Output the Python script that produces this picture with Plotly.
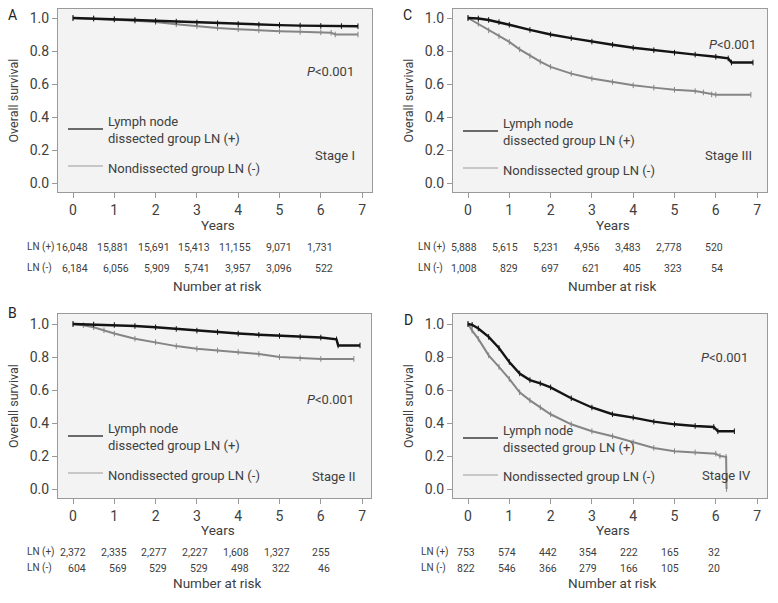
import plotly.graph_objects as go

W, H = 778, 603

# ---------------- data ----------------
years = [0, 1, 2, 3, 4, 5, 6, 7]
yticks = [0.0, 0.2, 0.4, 0.6, 0.8, 1.0]

A_pos_t = [0, 0.5, 1, 1.5, 2, 2.5, 3, 3.5, 4, 4.5, 5, 5.5, 6, 6.5, 6.9]
A_pos_s = [1.0, 0.997, 0.993, 0.988, 0.983, 0.978, 0.973, 0.968, 0.964, 0.960, 0.957, 0.954, 0.952, 0.951, 0.950]
A_neg_t = [0, 0.5, 1, 1.5, 2, 2.5, 3, 3.5, 4, 4.5, 5, 5.5, 6, 6.25, 6.35, 6.9]
A_neg_s = [1.0, 0.996, 0.99, 0.983, 0.975, 0.962, 0.95, 0.94, 0.932, 0.925, 0.92, 0.916, 0.913, 0.911, 0.90, 0.90]

B_pos_t = [0, 0.5, 1, 1.5, 2, 2.5, 3, 3.5, 4, 4.5, 5, 5.5, 6, 6.38, 6.42, 6.95]
B_pos_s = [1.0, 0.997, 0.994, 0.988, 0.98, 0.97, 0.96, 0.951, 0.942, 0.935, 0.928, 0.923, 0.918, 0.907, 0.87, 0.87]
B_neg_t = [0, 0.25, 0.5, 0.75, 1, 1.5, 2, 2.5, 3, 3.5, 4, 4.5, 5, 5.5, 6, 6.8]
B_neg_s = [1.0, 0.993, 0.98, 0.962, 0.942, 0.911, 0.89, 0.866, 0.85, 0.84, 0.83, 0.818, 0.80, 0.792, 0.788, 0.788]

C_pos_t = [0, 0.25, 0.5, 0.75, 1, 1.5, 2, 2.5, 3, 3.5, 4, 4.5, 5, 5.5, 6, 6.3, 6.38, 6.9]
C_pos_s = [1.0, 0.997, 0.988, 0.975, 0.959, 0.928, 0.90, 0.878, 0.857, 0.838, 0.82, 0.805, 0.79, 0.778, 0.765, 0.755, 0.73, 0.73]
C_neg_t = [0, 0.25, 0.5, 0.75, 1, 1.25, 1.5, 1.75, 2, 2.5, 3, 3.5, 4, 4.5, 5, 5.5, 5.7, 5.9, 6, 6.85]
C_neg_s = [1.0, 0.965, 0.925, 0.89, 0.855, 0.81, 0.77, 0.735, 0.704, 0.663, 0.633, 0.612, 0.592, 0.578, 0.565, 0.557, 0.549, 0.537, 0.535, 0.535]

D_pos_t = [0, 0.1, 0.25, 0.5, 0.75, 1, 1.25, 1.5, 1.75, 2, 2.5, 3, 3.5, 4, 4.5, 5, 5.5, 5.95, 6.05, 6.45]
D_pos_s = [1.0, 0.995, 0.973, 0.922, 0.855, 0.77, 0.70, 0.66, 0.64, 0.616, 0.55, 0.494, 0.453, 0.433, 0.408, 0.392, 0.382, 0.376, 0.35, 0.35]
D_neg_t = [0, 0.1, 0.25, 0.5, 0.75, 1, 1.25, 1.5, 1.75, 2, 2.5, 3, 3.5, 4, 4.5, 5, 5.5, 6, 6.1, 6.25, 6.26]
D_neg_s = [1.0, 0.96, 0.91, 0.81, 0.74, 0.667, 0.586, 0.537, 0.495, 0.453, 0.392, 0.35, 0.32, 0.283, 0.249, 0.229, 0.222, 0.214, 0.20, 0.195, 0.0]

A_risk_pos = ["16,048", "15,881", "15,691", "15,413", "11,155", "9,071", "1,731"]
A_risk_neg = ["6,184", "6,056", "5,909", "5,741", "3,957", "3,096", "522"]
B_risk_pos = ["2,372", "2,335", "2,277", "2,227", "1,608", "1,327", "255"]
B_risk_neg = ["604", "569", "529", "529", "498", "322", "46"]
C_risk_pos = ["5,888", "5,615", "5,231", "4,956", "3,483", "2,778", "520"]
C_risk_neg = ["1,008", "829", "697", "621", "405", "323", "54"]
D_risk_pos = ["753", "574", "442", "354", "222", "165", "32"]
D_risk_neg = ["822", "546", "366", "279", "166", "105", "20"]

legend_pos = "Lymph node<br>dissected group LN (+)"
legend_neg = "Nondissected group LN (-)"

# ---------------- layout helpers ----------------
FONT = "Roboto"
TXT = "#404040"


def px(x):
    return x / W


def py(y):
    return 1 - y / H


panels = [
    dict(letter="A", box=(58, 372, 9, 192), t_pos=A_pos_t, s_pos=A_pos_s, t_neg=A_neg_t, s_neg=A_neg_s,
         rp=A_risk_pos, rn=A_risk_neg, stage="Stage I"),
    dict(letter="B", box=(58, 371, 314, 498), t_pos=B_pos_t, s_pos=B_pos_s, t_neg=B_neg_t, s_neg=B_neg_s,
         rp=B_risk_pos, rn=B_risk_neg, stage="Stage II"),
    dict(letter="C", box=(453, 767, 9, 192), t_pos=C_pos_t, s_pos=C_pos_s, t_neg=C_neg_t, s_neg=C_neg_s,
         rp=C_risk_pos, rn=C_risk_neg, stage="Stage III"),
    dict(letter="D", box=(453, 767, 314, 498), t_pos=D_pos_t, s_pos=D_pos_s, t_neg=D_neg_t, s_neg=D_neg_s,
         rp=D_risk_pos, rn=D_risk_neg, stage="Stage IV"),
]

extra = {
    "A": dict(letter=(12, 15), p=(330, 71), stage=(335, 156), years_y=225, rows_y=(247, 268), nar_y=286,
              lab_x=25, end0=90, step=40.8, legy=(129, 166)),
    "B": dict(letter=(12, 313), p=(330, 399), stage=(334, 476), years_y=530, rows_y=(552, 568), nar_y=583,
              lab_x=25, end0=88, step=40.7, legy=(436, 473)),
    "C": dict(letter=(407, 15), p=(732, 45), stage=(728, 156), years_y=225, rows_y=(247, 268), nar_y=286,
              lab_x=416, end0=479, step=41.0, legy=(131, 168)),
    "D": dict(letter=(408, 320), p=(724, 357), stage=(726, 475), years_y=530, rows_y=(552, 568), nar_y=583,
              lab_x=419, end0=477, step=40.8, legy=(438, 475)),
}

fig = go.Figure()
annotations = []
shapes = []

for i, pnl in enumerate(panels):
    n = "" if i == 0 else str(i + 1)
    xa, ya = "x" + n, "y" + n
    L, R, T, B = pnl["box"]
    ex = extra[pnl["letter"]]
    x0pix = L + 15
    per_year = 41.3
    xr = [(L - x0pix) / per_year, (R - x0pix) / per_year]
    y1pix = T + 9 + (1 if B > 300 else 0)
    y0pix = B - 9
    ppu = y0pix - y1pix
    yr = [-(B - y0pix) / ppu, 1 + (y1pix - T) / ppu]

    axis_common = dict(showline=True, mirror=True, linecolor="#9a9a9a", linewidth=1,
                       ticks="outside", ticklen=5, tickcolor="#9a9a9a", showgrid=False, zeroline=False,
                       tickfont=dict(family=FONT, size=14, color=TXT))
    fig.update_layout(**{
        ("xaxis" + n): dict(domain=[px(L), px(R)], range=xr, anchor=ya, tickvals=years, **axis_common),
        ("yaxis" + n): dict(domain=[py(B), py(T)], range=yr, anchor=xa, tickvals=yticks,
                            tickformat=".1f", **axis_common),
    })

    fig.add_trace(go.Scatter(x=pnl["t_neg"], y=pnl["s_neg"], mode="lines+markers",
                             line=dict(color="#858585", width=2),
                             marker=dict(symbol="line-ns-open", size=4, line=dict(color="#666666", width=1)),
                             xaxis=xa, yaxis=ya, showlegend=False, hoverinfo="skip"))
    fig.add_trace(go.Scatter(x=pnl["t_pos"], y=pnl["s_pos"], mode="lines+markers",
                             line=dict(color="#141414", width=2.4),
                             marker=dict(symbol="line-ns-open", size=4, line=dict(color="#141414", width=1)),
                             xaxis=xa, yaxis=ya, showlegend=False, hoverinfo="skip"))

    lx0, lx1 = L + 10, L + 45
    shapes.append(dict(type="line", xref="paper", yref="paper", x0=px(lx0), x1=px(lx1),
                       y0=py(ex["legy"][0]), y1=py(ex["legy"][0]), line=dict(color="#3c3c3c", width=1.5)))
    shapes.append(dict(type="line", xref="paper", yref="paper", x0=px(lx0), x1=px(lx1),
                       y0=py(ex["legy"][1]), y1=py(ex["legy"][1]), line=dict(color="#b8b8b8", width=1.5)))
    annotations.append(dict(text=legend_pos, x=px(lx1 + 3), y=py(ex["legy"][0] + 1), xref="paper", yref="paper",
                            xanchor="left", yanchor="middle", align="left", showarrow=False,
                            font=dict(family=FONT, size=13, color=TXT)))
    annotations.append(dict(text=legend_neg, x=px(lx1 + 3), y=py(ex["legy"][1] + 2), xref="paper", yref="paper",
                            xanchor="left", yanchor="middle", showarrow=False,
                            font=dict(family=FONT, size=13, color=TXT)))

    annotations.append(dict(text=pnl["letter"], x=px(ex["letter"][0]), y=py(ex["letter"][1]), xref="paper",
                            yref="paper", xanchor="center", yanchor="middle", showarrow=False,
                            font=dict(family=FONT, size=14, color="#222")))
    annotations.append(dict(text="<i>P</i><0.001", x=px(ex["p"][0]), y=py(ex["p"][1]), xref="paper", yref="paper",
                            xanchor="center", yanchor="middle", showarrow=False,
                            font=dict(family=FONT, size=13, color=TXT)))
    annotations.append(dict(text=pnl["stage"], x=px(ex["stage"][0]), y=py(ex["stage"][1]), xref="paper",
                            yref="paper", xanchor="center", yanchor="middle", showarrow=False,
                            font=dict(family=FONT, size=13, color=TXT)))
    annotations.append(dict(text="Overall survival", x=px(L - 45), y=py((T + B) / 2), xref="paper", yref="paper",
                            xanchor="center", yanchor="middle", textangle=-90, showarrow=False,
                            font=dict(family=FONT, size=12.5, color=TXT)))
    cx = x0pix + 3.5 * per_year
    annotations.append(dict(text="Years", x=px(cx), y=py(ex["years_y"]), xref="paper", yref="paper",
                            xanchor="center", yanchor="middle", showarrow=False,
                            font=dict(family=FONT, size=13.5, color=TXT)))
    for row_label, vals, ry in (("LN (+)", pnl["rp"], ex["rows_y"][0]), ("LN (-)", pnl["rn"], ex["rows_y"][1])):
        annotations.append(dict(text=row_label, x=px(ex["lab_x"]), y=py(ry), xref="paper", yref="paper",
                                xanchor="left", yanchor="middle", showarrow=False,
                                font=dict(family=FONT, size=10, color=TXT)))
        for k, v in enumerate(vals):
            annotations.append(dict(text=v, x=px(ex["end0"] + k * ex["step"]), y=py(ry), xref="paper",
                                    yref="paper", xanchor="right", yanchor="middle", showarrow=False,
                                    font=dict(family=FONT, size=10.5, color=TXT)))
    annotations.append(dict(text="Number at risk", x=px(cx), y=py(ex["nar_y"]), xref="paper", yref="paper",
                            xanchor="center", yanchor="middle", showarrow=False,
                            font=dict(family=FONT, size=13.5, color=TXT)))

fig.update_layout(width=W, height=H, margin=dict(l=0, r=0, t=0, b=0),
                  paper_bgcolor="white", plot_bgcolor="#f3f3f3",
                  annotations=annotations, shapes=shapes, showlegend=False)

fig.write_html("out.html", config={"displayModeBar": False},
               post_script="document.body.style.margin='0';document.body.style.overflow='hidden';")
